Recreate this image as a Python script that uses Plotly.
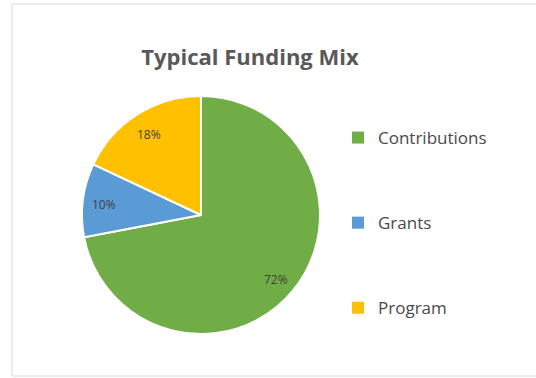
import math
import plotly.graph_objects as go

categories = ["Contributions", "Grants", "Program"]
values = [72, 10, 18]
colors = ["#70AD47", "#5B9BD5", "#FFC000"]
title_text = "Typical Funding Mix"

W, H = 536, 378
ml, mr, mt, mb = 12, 0, 4, 2
pw, ph = W - ml - mr, H - mt - mb

cx, cy, r = 201, 215, 119
dx0 = (cx - r - ml) / pw
dx1 = (cx + r - ml) / pw
dy0 = (H - mb - (cy + r)) / ph
dy1 = (H - mb - (cy - r)) / ph

fig = go.Figure()
fig.add_trace(go.Pie(
    labels=categories, values=values, sort=False, direction="clockwise", rotation=0,
    marker=dict(colors=colors, line=dict(color="white", width=2)),
    textinfo="none",
    showlegend=False, hoverinfo="label+percent",
    domain=dict(x=[dx0, dx1], y=[dy0, dy1]),
))

# percentage labels placed at ~82% of radius, at each slice's mid-angle (computed from data)
total = sum(values)
annotations = []
cum = 0
for v in values:
    mid = (cum + v / 2) / total * 2 * math.pi
    cum += v
    px = cx + 0.82 * r * math.sin(mid)
    py = cy - 0.82 * r * math.cos(mid) + 2
    annotations.append(dict(
        text=f"{round(100 * v / total)}%", x=(px - ml) / pw, y=(H - mb - py) / ph,
        xref="paper", yref="paper", showarrow=False, xanchor="center", yanchor="middle",
        font=dict(family="Open Sans", size=12, color="#404040"),
    ))

for c, col in zip(categories, colors):
    fig.add_trace(go.Scatter(
        x=[None], y=[None], mode="markers", name=c, legendgroup=c,
        marker=dict(symbol="square", size=6, color=col),
    ))

fig.update_layout(
    width=W, height=H,
    margin=dict(l=ml, r=mr, t=mt, b=mb),
    paper_bgcolor="white", plot_bgcolor="white",
    xaxis=dict(visible=False), yaxis=dict(visible=False),
    title=dict(text="<b>" + title_text + "</b>", x=(250 - ml) / pw, xref="paper", xanchor="center",
               y=1 - 57 / H, yref="container", yanchor="middle",
               font=dict(family="Open Sans", size=22, color="#595959")),
    legend=dict(x=(338 - ml) / pw, xanchor="left", y=(H - mb - 120) / ph, yanchor="top",
                tracegroupgap=60, itemsizing="constant",
                font=dict(family="Open Sans", size=17, color="#4A4A4A"),
                bgcolor="rgba(0,0,0,0)"),
    annotations=annotations,
    shapes=[dict(type="rect", xref="paper", yref="paper", x0=0, x1=1.05, y0=0, y1=1,
                 line=dict(color="#D9D9D9", width=1), fillcolor="rgba(0,0,0,0)", layer="below")],
)

fig.write_html("out.html")
